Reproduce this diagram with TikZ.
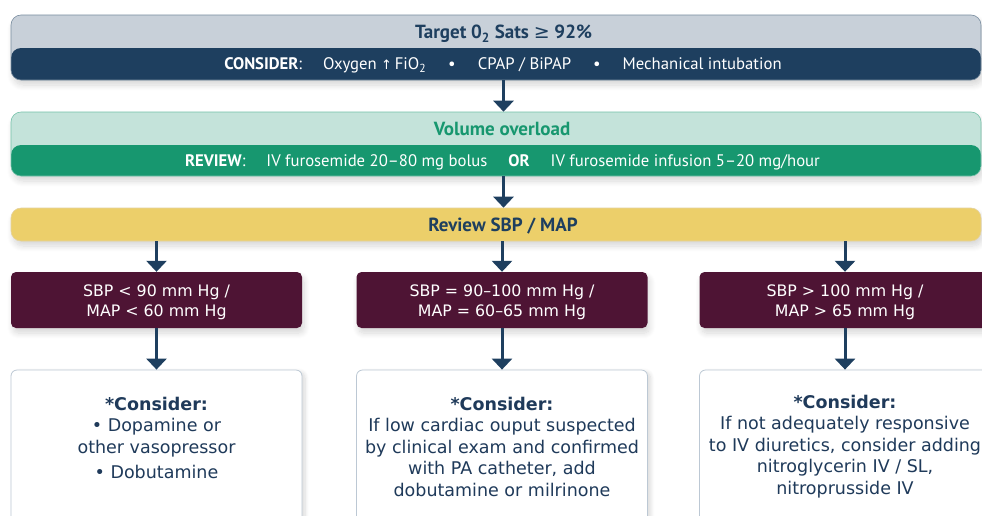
\documentclass[tikz,border=0pt]{standalone}
\usepackage{fontspec}
\setmainfont{PT Sans}
\newfontfamily\boxfont{DejaVu Sans}
\newfontfamily\symfont{DejaVu Sans}
\usetikzlibrary{arrows.meta,shadows.blur}

\definecolor{navy}{HTML}{1E3F5F}
\definecolor{slate}{HTML}{C8D0D9}
\definecolor{mint}{HTML}{C4E3DA}
\definecolor{teal}{HTML}{17976F}
\definecolor{sand}{HTML}{ECCF6A}
\definecolor{sandline}{HTML}{D2B45E}
\definecolor{wine}{HTML}{4E1434}
\definecolor{frame}{HTML}{BCC8D4}
\definecolor{ink}{HTML}{1F3A5A}

\tikzset{
  softshadow/.style={blur shadow={shadow blur steps=10, shadow xshift=2pt,
      shadow yshift=-5pt, shadow opacity=16, shadow blur radius=6pt}},
  banner/.style={rounded corners=10pt, minimum width=970pt, inner sep=0pt,
      draw=#1!60!white, line width=0.6pt, softshadow},
  lowerhalf/.style 2 args={path picture={\fill[#1]
      (path picture bounding box.south west) rectangle
      ([yshift=#2]path picture bounding box.south east);}},
  heading/.style={anchor=base, font=\fontsize{19}{22}\selectfont\bfseries},
  detail/.style={anchor=base, text=white, font=\fontsize{16.7}{20}\selectfont},
  rangebox/.style={fill=wine, rounded corners=5pt, minimum width=291pt,
      minimum height=56pt, inner sep=0pt, softshadow},
  rangetext/.style={align=center, text=white, inner sep=0pt,
      font=\boxfont\fontsize{15.8}{20}\selectfont},
  advicebox/.style={fill=white, draw=frame, line width=0.8pt, rounded corners=6pt,
      minimum width=291pt, minimum height=153pt, inner sep=0pt, align=center,
      text=ink, font=\boxfont\fontsize{17.5}{21.5}\selectfont,
      blur shadow={shadow blur steps=8, shadow xshift=3pt, shadow yshift=-2pt,
      shadow opacity=15, shadow blur radius=4pt}},
  arr/.style={draw=navy, line width=3pt,
      -{Triangle[width=20pt,length=11pt]}},
}

\begin{document}
\begin{tikzpicture}[x=1pt,y=-1pt]
\useasboundingbox (0,0) rectangle (982,515);
\clip (0,0) rectangle (982,515);

% oxygenation banner
\node[banner=navy, fill=slate, minimum height=65pt, lowerhalf={navy}{32pt}]
  (o2) at (496,47.5) {};
\node[heading, text=navy] (o2t) at (503.5,38.5)
  {Target 0\textsubscript{2} Sats {\symfont\mdseries ≥} 92\%};
\node[detail] (o2d) at (503,69.5)
  {\textbf{CONSIDER}:\hspace{21pt}Oxygen {\symfont\fontsize{13}{14}\selectfont ↑}\,FiO\textsubscript{2}\hspace{22pt}•\hspace{22pt}CPAP / BiPAP\hspace{22pt}•\hspace{22pt}Mechanical intubation};

% diuretic banner
\node[banner=teal, fill=mint, minimum height=64pt, lowerhalf={teal}{31pt}]
  (vol) at (496,144) {};
\node[heading, text=teal] (volt) at (502,135) {Volume overload};
\node[detail] (vold) at (502.5,166)
  {\textbf{REVIEW}:\hspace{21pt}IV furosemide 20–80 mg bolus\hspace{21pt}\textbf{OR}\hspace{21pt}IV furosemide infusion 5–20 mg/hour};

% blood pressure banner
\node[banner=sandline, fill=sand, minimum height=33pt]
  (sbp) at (496,224.5) {};
\node[heading, text=navy] (sbpt) at (503,231.5) {Review SBP / MAP};

% pressure ranges
\node[rangebox] (low) at (156.5,300) {};
\node[rangebox] (mid) at (502,300) {};
\node[rangebox] (high) at (845,300) {};
\node[rangetext] (lowtxt) at ([yshift=-2.5pt]low.center) {SBP < 90 mm Hg /\\MAP < 60 mm Hg};
\node[rangetext] (midtxt) at ([yshift=-2.5pt]mid.center) {SBP = 90–100 mm Hg /\\MAP = 60–65 mm Hg};
\node[rangetext] (hightxt) at ([yshift=-2.5pt]high.center) {SBP > 100 mm Hg /\\MAP > 65 mm Hg};

% recommended therapy
\node[advicebox] (lowrx) at (156.5,446.5)
  {\textbf{*Consider:}\\• Dopamine or\\other vasopressor\\[3.5pt]• Dobutamine\\[-4pt]\mbox{}};
\node[advicebox] (midrx) at (502,446.5)
  {\textbf{*Consider:}\\If low cardiac ouput suspected\\by clinical exam and confirmed\\with PA catheter, add\\dobutamine or milrinone};
\node[advicebox] (highrx) at (845,446.5)
  {\textbf{*Consider:}\\If not adequately responsive\\to IV diuretics, consider adding\\nitroglycerin IV / SL,\\nitroprusside IV};

% flow arrows
\draw[arr] (o2t |- o2.south) -- (o2t |- vol.north);
\draw[arr] (o2t |- vol.south) -- (o2t |- sbp.north);
\draw[arr] (sbp.south -| low.north) -- (low.north);
\draw[arr] (sbp.south -| mid.north) -- (mid.north);
\draw[arr] (sbp.south -| high.north) -- (high.north);
\draw[arr] (low.south) -- (lowrx.north);
\draw[arr] (mid.south) -- (midrx.north);
\draw[arr] (high.south) -- (highrx.north);
\end{tikzpicture}
\end{document}
